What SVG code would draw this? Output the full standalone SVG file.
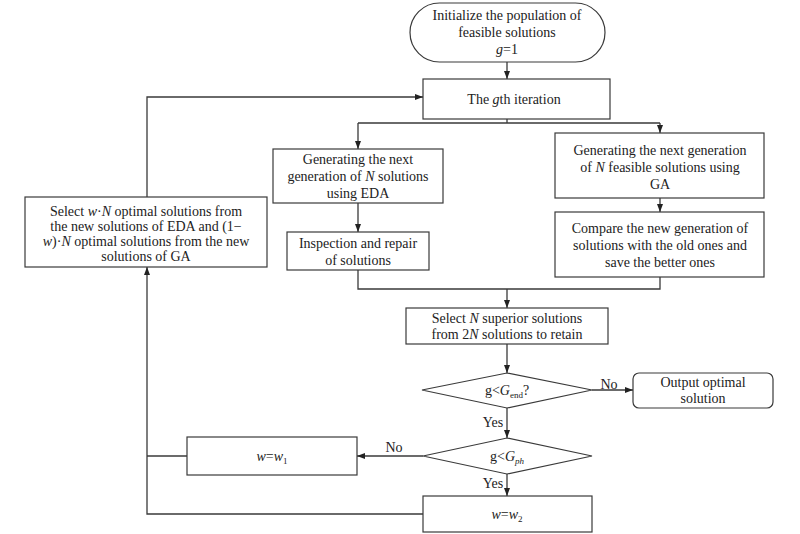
<svg xmlns="http://www.w3.org/2000/svg" width="800" height="534" viewBox="0 0 800 534">
<style>
.box{fill:#fff;stroke:#3a3a3a;stroke-width:1.2}
.ln{fill:none;stroke:#3a3a3a;stroke-width:1.3}
text{font-family:"Liberation Serif","Times New Roman",serif;font-size:14px;fill:#222;text-anchor:middle}
.i{font-style:italic}
.sub{font-size:9px}
</style>
<defs>
<marker id="ah" viewBox="0 0 8 6" refX="8" refY="3" markerWidth="8" markerHeight="6" markerUnits="userSpaceOnUse" orient="auto">
<path d="M0,0 L8,3 L0,6 Z" fill="#222"/>
</marker>
</defs>
<rect width="800" height="534" fill="#fff"/>
<g id="connectors">
<path class="ln" d="M507,62 V79" marker-end="url(#ah)"/>
<path class="ln" d="M507,119 V123 M358,123 H660"/>
<path class="ln" d="M358,123 V149" marker-end="url(#ah)"/>
<path class="ln" d="M660,123 V133" marker-end="url(#ah)"/>
<path class="ln" d="M358,203 V232" marker-end="url(#ah)"/>
<path class="ln" d="M660,198 V212" marker-end="url(#ah)"/>
<path class="ln" d="M358,270 V289 H660 V277"/>
<path class="ln" d="M507,289 V308" marker-end="url(#ah)"/>
<path class="ln" d="M507,344 V373" marker-end="url(#ah)"/>
<path class="ln" d="M592,390 H633" marker-end="url(#ah)"/>
<path class="ln" d="M507,408 V438" marker-end="url(#ah)"/>
<path class="ln" d="M423,456 H357" marker-end="url(#ah)"/>
<path class="ln" d="M507,474 V496" marker-end="url(#ah)"/>
<path class="ln" d="M187,456 H147"/>
<path class="ln" d="M423,514 H147 V267" marker-end="url(#ah)"/>
<path class="ln" d="M147,197 V97 H423" marker-end="url(#ah)"/>
<text x="609" y="389">No</text>
<text x="493" y="427">Yes</text>
<text x="394" y="452">No</text>
<text x="493" y="488">Yes</text>
</g>
<g id="start">
<rect class="box" x="410" y="3" width="195" height="59" rx="29.5"/>
<text x="507" y="20">Initialize the population of</text>
<text x="507" y="37">feasible solutions</text>
<text x="507" y="54"><tspan class="i">g</tspan>=1</text>
</g>
<g id="iteration">
<rect class="box" x="423" y="79" width="187" height="40"/>
<text x="514" y="104">The <tspan class="i">g</tspan>th iteration</text>
</g>
<g id="eda">
<rect class="box" x="273" y="149" width="170" height="54"/>
<text x="358" y="164">Generating the next</text>
<text x="358" y="181">generation of <tspan class="i">N</tspan> solutions</text>
<text x="358" y="198">using EDA</text>
</g>
<g id="inspection">
<rect class="box" x="287" y="232" width="142" height="38"/>
<text x="358" y="248">Inspection and repair</text>
<text x="358" y="265">of solutions</text>
</g>
<g id="ga">
<rect class="box" x="555" y="133" width="209" height="65"/>
<text x="660" y="155">Generating the next generation</text>
<text x="660" y="172">of <tspan class="i">N</tspan> feasible solutions using</text>
<text x="660" y="189">GA</text>
</g>
<g id="compare">
<rect class="box" x="555" y="212" width="209" height="65"/>
<text x="660" y="233">Compare the new generation of</text>
<text x="660" y="250">solutions with the old ones and</text>
<text x="660" y="267">save the better ones</text>
</g>
<g id="selectN">
<rect class="box" x="406" y="308" width="202" height="36"/>
<text x="507" y="323">Select <tspan class="i">N</tspan> superior solutions</text>
<text x="507" y="339">from 2<tspan class="i">N</tspan> solutions to retain</text>
</g>
<g id="decision1">
<polygon class="box" points="422,390 507,373 592,390 507,408"/>
<text x="507" y="395">g&lt;<tspan class="i">G</tspan><tspan class="sub" dy="3">end</tspan><tspan dy="-3">?</tspan></text>
</g>
<g id="output">
<rect class="box" x="633" y="373" width="140" height="35" rx="6"/>
<text x="703" y="387">Output optimal</text>
<text x="703" y="403">solution</text>
</g>
<g id="decision2">
<polygon class="box" points="423,456 507,438 592,456 507,474"/>
<text x="507" y="461">g&lt;<tspan class="i">G</tspan><tspan class="sub i" dy="3">ph</tspan></text>
</g>
<g id="w1">
<rect class="box" x="187" y="437" width="170" height="38"/>
<text x="272" y="461"><tspan class="i">w</tspan>=<tspan class="i">w</tspan><tspan class="sub" dy="3">1</tspan></text>
</g>
<g id="w2">
<rect class="box" x="423" y="496" width="169" height="36"/>
<text x="507" y="519"><tspan class="i">w</tspan>=<tspan class="i">w</tspan><tspan class="sub" dy="3">2</tspan></text>
</g>
<g id="selectW">
<rect class="box" x="25" y="197" width="242" height="70"/>
<text x="146" y="216">Select <tspan class="i">w</tspan>·<tspan class="i">N</tspan> optimal solutions from</text>
<text x="146" y="231">the new solutions of EDA and (1−</text>
<text x="146" y="246"><tspan class="i">w</tspan>)·<tspan class="i">N</tspan> optimal solutions from the new</text>
<text x="146" y="261">solutions of GA</text>
</g>
</svg>
